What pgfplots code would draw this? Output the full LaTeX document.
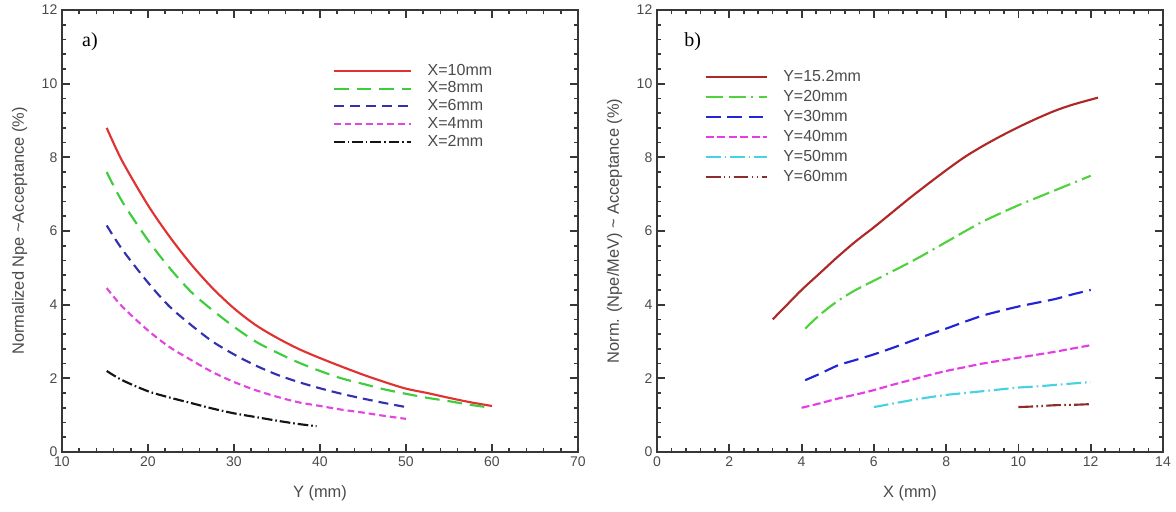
\documentclass[border=0pt]{standalone}
\usepackage{pgfplots}
\pgfplotsset{compat=1.18}
\usepackage{fontspec}
\setmainfont{Liberation Sans}
\newfontfamily\serifa{Liberation Serif}
\definecolor{tcol}{RGB}{75,75,75}
\definecolor{acol}{RGB}{55,55,55}
\definecolor{lred}{RGB}{225,50,50}
\definecolor{lgreen}{RGB}{60,205,60}
\definecolor{lblue}{RGB}{50,50,175}
\definecolor{lmag}{RGB}{225,70,225}
\definecolor{lblack}{RGB}{20,20,20}
\definecolor{rred}{RGB}{175,40,40}
\definecolor{rgreen}{RGB}{80,210,60}
\definecolor{rblue}{RGB}{35,35,215}
\definecolor{rmag}{RGB}{230,60,230}
\definecolor{rcyan}{RGB}{70,210,225}
\definecolor{rbrown}{RGB}{140,45,45}
\pgfplotsset{
  mystyle/.style={
    scale only axis,
    height=331.5pt,
    ymin=0, ymax=12, ytick={0,2,...,12},
    minor y tick num=4,
    tick align=inside,
    tick pos=both,
    axis line style={acol, line width=1.3pt},
    major tick length=6pt, minor tick length=3pt,
    major tick style={acol, line width=1.4pt},
    minor tick style={acol, line width=1.2pt},
    tick label style={font=\fontsize{10.5}{12}\selectfont, text=tcol},
    label style={font=\fontsize{12.3}{14}\selectfont, text=tcol},
    /pgf/number format/assume math mode=true,
    legend style={draw=none, fill=none, font=\fontsize{12}{14}\selectfont, text=tcol,
      row sep=0pt},
    legend cell align=left,
    xlabel style={yshift=-7pt},
    ylabel style={yshift=4pt},
    axis on top,
  },
}
\begin{document}
\begin{tikzpicture}
\begin{axis}[
  mystyle,
  width=387pt,
  xmin=10, xmax=70, xtick={10,20,...,70}, minor x tick num=4,
  xlabel={Y (mm)},
  ylabel={Normalized Npe \textasciitilde Acceptance (\%)},
  legend style={at={(rel axis cs:0.517,0.889)}, anchor=north west,
    nodes={inner sep=1.4pt, text height=8.5pt, text depth=2pt}},
  legend image code/.code={\draw[#1] (0cm,0cm) -- (58pt,0cm);},
]
\addplot[lred, line width=1.6pt, smooth] coordinates {(15.2,8.8)(17,7.9)(20,6.7)(22.5,5.85)(25,5.1)(27.5,4.45)(30,3.9)(32.5,3.45)(35,3.1)(37.5,2.8)(40,2.55)(42.5,2.32)(45,2.1)(47.5,1.9)(50,1.72)(52.5,1.6)(55,1.47)(57.5,1.35)(60,1.25)};
\addlegendentry{\hspace{10pt}X=10mm}
\addplot[lgreen, line width=1.6pt, smooth, dash pattern=on 11pt off 6pt] coordinates {(15.2,7.6)(17,6.8)(20,5.75)(22.5,5.0)(25,4.35)(27.5,3.85)(30,3.4)(32.5,3.0)(35,2.7)(37.5,2.43)(40,2.2)(42.5,2.0)(45,1.85)(47.5,1.7)(50,1.58)(52.5,1.47)(55,1.38)(57.5,1.28)(60,1.2)};
\addlegendentry{\hspace{10pt}X=8mm}
\addplot[lblue, line width=1.6pt, smooth, dash pattern=on 7.5pt off 4.5pt] coordinates {(15.2,6.15)(17,5.5)(20,4.6)(22.5,3.95)(25,3.45)(27.5,3.0)(30,2.65)(32.5,2.35)(35,2.1)(37.5,1.9)(40,1.73)(42.5,1.58)(45,1.45)(47.5,1.33)(50,1.22)};
\addlegendentry{\hspace{10pt}X=6mm}
\addplot[lmag, line width=1.6pt, smooth, dash pattern=on 5pt off 3pt] coordinates {(15.2,4.45)(17,3.95)(20,3.3)(22.5,2.85)(25,2.5)(27.5,2.17)(30,1.9)(32.5,1.68)(35,1.5)(37.5,1.35)(40,1.25)(42.5,1.15)(45,1.07)(47.5,0.98)(50,0.9)};
\addlegendentry{\hspace{10pt}X=4mm}
\addplot[lblack, line width=1.6pt, smooth, dash pattern=on 8pt off 2.2pt on 1.2pt off 2.2pt] coordinates {(15.2,2.2)(17,1.95)(20,1.65)(22.5,1.48)(25,1.33)(27.5,1.18)(30,1.05)(32.5,0.95)(35,0.85)(37.5,0.76)(39.6,0.7)};
\addlegendentry{\hspace{10pt}X=2mm}
\node[anchor=west, font=\serifa\fontsize{15}{17}\selectfont, text=black] at (rel axis cs:0.03,0.928) {a)};
\end{axis}
\begin{axis}[
  mystyle,
  at={(446.25pt,0pt)},
  width=379.5pt,
  xmin=0, xmax=14, xtick={0,2,...,14}, minor x tick num=4,
  xlabel={X (mm)},
  ylabel={Norm. (Npe/MeV) \textasciitilde{} Acceptance (\%)},
  legend style={at={(rel axis cs:0.086,0.878)}, anchor=north west,
    nodes={inner sep=2.25pt, text height=8.5pt, text depth=2pt}},
  legend image code/.code={\draw[#1] (0cm,0cm) -- (46pt,0cm);},
]
\addplot[rred, line width=1.6pt, smooth] coordinates {(3.2,3.6)(3.6,4.0)(4,4.4)(4.5,4.85)(5,5.3)(5.5,5.72)(6,6.1)(6.5,6.5)(7,6.9)(7.5,7.28)(8,7.65)(8.5,8.0)(9,8.3)(9.5,8.57)(10,8.82)(10.5,9.05)(11,9.26)(11.5,9.43)(12.2,9.62)};
\addlegendentry{\hspace{9pt}Y=15.2mm}
\addplot[rgreen, line width=1.6pt, smooth, dash pattern=on 13pt off 4pt on 13pt off 4pt on 1.5pt off 4pt] coordinates {(4.1,3.35)(4.5,3.72)(5,4.1)(5.5,4.4)(6,4.65)(6.5,4.9)(7,5.15)(7.5,5.42)(8,5.7)(8.5,5.98)(9,6.25)(9.5,6.48)(10,6.7)(10.5,6.9)(11,7.1)(11.5,7.3)(12,7.5)};
\addlegendentry{\hspace{9pt}Y=20mm}
\addplot[rblue, line width=1.6pt, smooth, dash pattern=on 11pt off 5pt] coordinates {(4.1,1.95)(4.5,2.12)(5,2.35)(5.5,2.5)(6,2.65)(6.5,2.82)(7,3.0)(7.5,3.18)(8,3.35)(8.5,3.53)(9,3.7)(9.5,3.83)(10,3.95)(10.5,4.05)(11,4.15)(11.5,4.28)(12,4.4)};
\addlegendentry{\hspace{9pt}Y=30mm}
\addplot[rmag, line width=1.6pt, smooth, dash pattern=on 6pt off 2.6pt] coordinates {(4,1.2)(4.5,1.32)(5,1.45)(5.5,1.56)(6,1.68)(6.5,1.82)(7,1.95)(7.5,2.08)(8,2.2)(8.5,2.3)(9,2.4)(9.5,2.48)(10,2.56)(10.5,2.64)(11,2.72)(11.5,2.81)(12,2.9)};
\addlegendentry{\hspace{9pt}Y=40mm}
\addplot[rcyan, line width=1.6pt, smooth, dash pattern=on 11pt off 3pt on 1.2pt off 3pt] coordinates {(6,1.22)(6.5,1.31)(7,1.4)(7.5,1.48)(8,1.55)(8.5,1.6)(9,1.65)(9.5,1.7)(10,1.75)(10.5,1.78)(11,1.82)(11.5,1.86)(12,1.9)};
\addlegendentry{\hspace{9pt}Y=50mm}
\addplot[rbrown, line width=1.6pt, smooth, dash pattern=on 11pt off 2.5pt on 1.2pt off 2.5pt on 1.2pt off 2.5pt] coordinates {(10,1.22)(10.5,1.24)(11,1.27)(11.5,1.28)(12,1.3)};
\addlegendentry{\hspace{9pt}Y=60mm}
\node[anchor=west, font=\serifa\fontsize{15}{17}\selectfont, text=black] at (rel axis cs:0.045,0.928) {b)};
\end{axis}
\useasboundingbox (-46.5pt,-44.25pt) rectangle (835.5pt,339pt);
\end{tikzpicture}
\end{document}
